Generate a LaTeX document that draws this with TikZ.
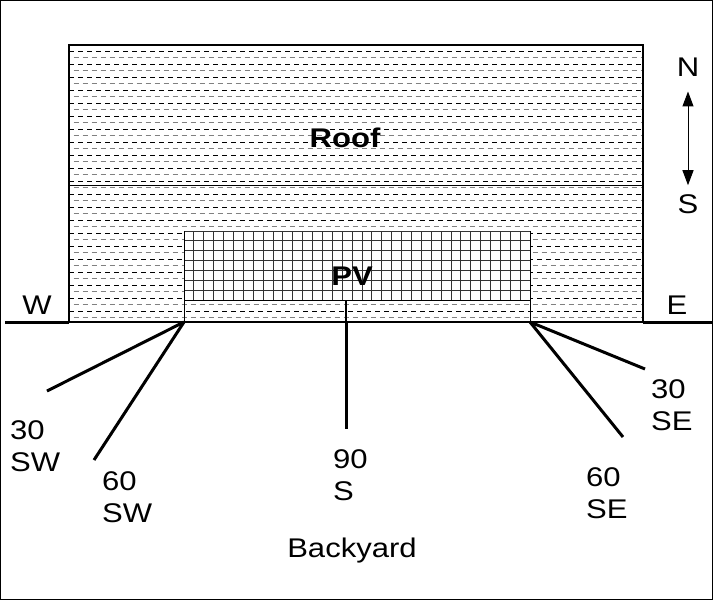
\documentclass[tikz,border=0pt]{standalone}
\usepackage{fontspec}
\setmainfont{Liberation Sans}[FakeStretch=1.15]
\usetikzlibrary{arrows.meta,positioning}

\begin{document}
\begin{tikzpicture}[
    x=1pt,y=-1pt,
    lbl/.style={font=\fontsize{27}{32}\selectfont,inner sep=0pt},
    dir/.style={lbl,align=left,anchor=west},
    ground/.style={line width=3pt},
    view/.style={line width=3pt},
    hatch/.style={line width=0.8pt,dash pattern=on 5pt off 4pt},
    cell/.style={line width=0.8pt,black!80},
    nstip/.tip={Triangle[width=11pt,length=15pt]}
  ]
  \useasboundingbox (0,0) rectangle (713,600);
  \draw[line width=1pt] (0.5,0.5) rectangle (712.5,599.5);
  % roof hatching
  \foreach \y in {51,64,...,320}
    \draw[hatch] (69,\y) -- (643,\y);
  \foreach \y in {57,70,...,320}
    \draw[hatch,gray,dash phase=4.5pt] (69,\y) -- (643,\y);
  \draw[line width=1.5pt] (69,322) -- (69,45) -- (643,45) -- (643,322) -- cycle;
  \draw[line width=1pt] (69,185) -- (643,185);
  % PV panel
  \fill[white] (184,231) rectangle (530,300);
  \foreach \i in {0,...,35}
    \draw[cell] (184+\i*9.886,231) -- ++(0,69);
  \foreach \j in {0,...,7}
    \draw[cell] (184,231+\j*9.857) -- ++(346,0);
  \draw[line width=1pt] (184,231) -- (184,322) (530,231) -- (530,322)
    (184,300) -- (530,300);
  % ground
  \draw[ground] (5,322) -- (69,322);
  \draw[ground] (643,322) -- (713,322);
  % view lines
  \coordinate (pvl) at (184,322);
  \coordinate (pvm) at (346,300);
  \coordinate (pvg) at (346,322);
  \coordinate (pvr) at (530,322);
  \coordinate (sw30) at (47,391);
  \coordinate (sw60) at (94,460);
  \coordinate (s90) at (346,429);
  \coordinate (se60) at (623,437);
  \coordinate (se30) at (645,369);
  \draw[view] (pvl) -- (sw30);
  \draw[view] (pvl) -- (sw60);
  \draw[line width=1.5pt] (pvm) -- (pvg);
  \draw[view] (pvg) -- (s90);
  \draw[view] (pvr) -- (se60);
  \draw[view] (pvr) -- (se30);
  % labels
  \node[lbl,font=\fontsize{27}{32}\selectfont\bfseries] (roof) at (345,138) {Roof};
  \node[lbl,font=\fontsize{27}{32}\selectfont\bfseries] (pv) at (352,276) {PV};
  \node[lbl] (west) at (37,305) {W};
  \node[lbl] (east) at (677,305) {E};
  \node[lbl] (north) at (688,67) {N};
  \node[lbl] (south) at (688,204) {S};
  \draw[nstip-nstip,line width=1pt,
        shorten <=15pt,shorten >=9pt] (north) -- (south);
  \node[dir] (t30sw) at (10,446) {30\\SW};
  \node[dir] (t60sw) at (102,497) {60\\SW};
  \node[dir] (t90s) at (333,475) {90\\S};
  \node[dir] (t60se) at (586,493) {60\\SE};
  \node[dir] (t30se) at (651,405) {30\\SE};
  \node[lbl] (yard) at (352,551) {Backyard};
\end{tikzpicture}
\end{document}
